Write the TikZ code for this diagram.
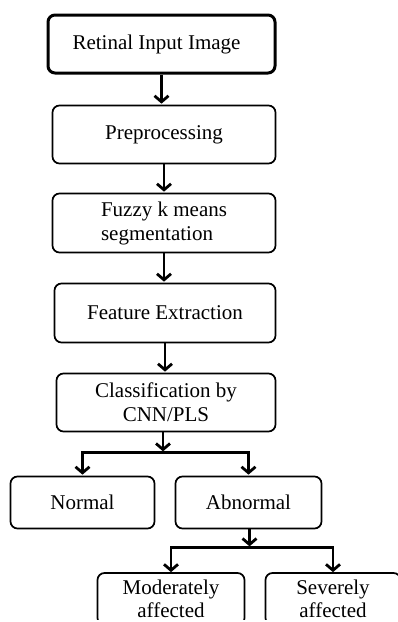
\documentclass[tikz,border=0pt]{standalone}
\usepackage{fontspec}
\setmainfont{Liberation Serif}
\usetikzlibrary{arrows.meta,calc}
\tikzstyle{stepbox}=[draw,line width=1.7pt,rounded corners=7pt,align=center,inner sep=0pt,font=\fontsize{21}{24}\selectfont]
\tikzstyle{flow}=[line width=2.6pt,-{Straight Barb[length=6pt,width=14pt,line width=2.8pt]},shorten >=1pt]
\tikzstyle{bar}=[line width=2.6pt,line cap=rect]

\begin{document}
\begin{tikzpicture}[x=1pt,y=-1pt]
	\useasboundingbox (0,0) rectangle (398,622);
	\clip (0,0) rectangle (398,622);
	\node[stepbox,line width=3pt,minimum width=227pt,minimum height=58pt] (input) at (161.5,44) {Retinal Input Image\hspace*{10pt}};
	\node[stepbox,minimum width=223pt,minimum height=58pt] (prep) at (164,134.5) {Preprocessing};
	\node[stepbox,minimum width=223pt,minimum height=59pt,align=left] (fuzzy) at (164,223) {Fuzzy k means\\segmentation};
	\node[stepbox,minimum width=221pt,minimum height=59pt] (feat) at (165,313) {Feature Extraction};
	\node[stepbox,minimum width=219pt,minimum height=58pt] (classify) at (166,402.5) {Classification by\\CNN/PLS};
	\node[stepbox,minimum width=144pt,minimum height=52pt] (normal) at (82.5,502.5) {Normal};
	\node[stepbox,minimum width=146pt,minimum height=52pt] (abnormal) at (248.5,502.5) {Abnormal};
	% bottom boxes run past the lower edge
	\node[stepbox,minimum width=147pt,minimum height=52pt,font=\fontsize{21}{23}\selectfont] (moderate) at (171,599) {Moderately\\affected};
	\node[stepbox,minimum width=135pt,minimum height=52pt,font=\fontsize{21}{23}\selectfont] (severe) at (333,599) {Severely\\affected};
	\fill[white] (0,620) rectangle (398,630);
	% straight chain
	\draw[flow] (input.south) -- (input.south |- prep.north);
	\draw[flow] (prep.south) -- (prep.south |- fuzzy.north);
	\draw[flow] (fuzzy.south) -- (fuzzy.south |- feat.north);
	\draw[flow] (feat.south) -- (feat.south |- classify.north);
	% first split
	\coordinate (split1) at ($(classify.south)+(-3,20)$);
	\coordinate (n1) at (normal.north |- split1);
	\coordinate (a1) at (abnormal.north |- split1);
	\draw[flow] (classify.south -| split1) -- (split1);
	\draw[bar] (n1) -- (a1);
	\draw[flow] (n1) -- (normal.north);
	\draw[flow] (a1) -- (abnormal.north);
	% second split
	\coordinate (split2) at ($(abnormal.south)+(1,18)$);
	\coordinate (m1) at (moderate.north |- split2);
	\coordinate (s1) at (severe.north |- split2);
	\draw[flow] (abnormal.south -| split2) -- (split2);
	\draw[bar] (m1) -- (s1);
	\draw[flow] (m1) -- ([yshift=-1pt]moderate.north);
	\draw[flow] (s1) -- ([yshift=-1pt]severe.north);
\end{tikzpicture}
\end{document}
